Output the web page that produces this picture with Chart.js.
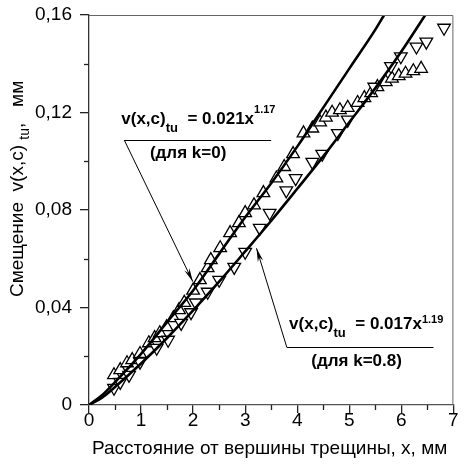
<!DOCTYPE html>
<html><head><meta charset="utf-8">
<script src="https://cdn.jsdelivr.net/npm/chart.js@4/dist/chart.umd.min.js"></script>
<style>html,body{margin:0;padding:0;background:#fff;overflow:hidden}#wrap{width:462px;height:465px;position:relative}</style>
</head><body><div id="wrap"><canvas id="c" width="462" height="465"></canvas></div>
<script>
// ---- data ----
const xTickLabels = ['0','1','2','3','4','5','6','7'];
const yTickLabels = ['0','0,04','0,08','0,12','0,16'];

// k = 0 (up triangles)
const k0X = [0.48,0.60,0.73,0.83,0.98,1.15,1.26,1.36,1.49,1.62,1.73,1.83,2.00,2.13,2.28,2.34,2.52,2.71,2.88,3.00,3.17,3.35,3.60,3.75,3.92,4.12,4.29,4.44,4.55,4.67,4.82,4.97,5.16,5.29,5.42,5.54,5.70,5.82,5.95,6.08,6.23,6.38];
const k0Y = [0.0123,0.0144,0.0172,0.0185,0.0210,0.0254,0.0275,0.0295,0.0320,0.0357,0.0390,0.0420,0.0470,0.0513,0.0562,0.0595,0.0644,0.0706,0.0747,0.0788,0.0820,0.0870,0.0930,0.0977,0.1030,0.1115,0.1135,0.1160,0.1180,0.1200,0.1210,0.1220,0.1240,0.1260,0.1280,0.1305,0.1325,0.1340,0.1350,0.1360,0.1370,0.1380];

// k = 0.8 (down triangles)
const k08X = [0.48,0.60,0.77,0.98,1.30,1.52,1.77,1.96,2.05,2.28,2.50,2.79,3.00,3.28,3.47,3.79,3.97,4.29,4.48,4.78,4.97,5.48,5.80,5.99,6.29,6.48,6.82];
const k08Y = [0.0070,0.0094,0.0123,0.0177,0.0234,0.0267,0.0336,0.0380,0.0420,0.0464,0.0513,0.0566,0.0628,0.0726,0.0788,0.0880,0.0930,0.0997,0.1030,0.1115,0.1170,0.1305,0.1390,0.1430,0.1470,0.1490,0.1547];

// fitted curves
const fit0X = [0,0.25,0.5,1,1.5,2,2.5,3,3.5,4,4.5,5,5.5,5.67];
const fit0Y = [0,0.004,0.0094,0.021,0.034,0.047,0.062,0.077,0.091,0.106,0.122,0.138,0.154,0.160];
const fit08X = [0,0.25,0.5,1,1.5,2,2.5,3,3.5,4,4.5,5,5.5,6,6.46];
const fit08Y = [0,0.003,0.0074,0.017,0.0275,0.0388,0.0506,0.063,0.0756,0.0887,0.102,0.116,0.130,0.145,0.160];

const pts = (xs, ys) => xs.map((x, i) => ({x: x, y: ys[i]}));
const FONT = "'Liberation Sans', Arial, sans-serif";

// annotation anchors (data coordinates)
const notes = [
  {text: [['v(x,c)',17,0],['tu',13,8],['  = 0.021x',17,0],['1.17',11,-11]], at: [0.62,0.1153],
   sub: '(для k=0)', subAt: [1.17,0.1013], line: [0.677,3.50,0.1087], arrowFrom: [0.677,0.1087], arrowTo: [1.995,0.0506]},
  {text: [['v(x,c)',17,0],['tu',13,8],['  = 0.017x',17,0],['1.19',11,-6]], at: [3.844,0.0310],
   sub: '(для k=0.8)', subAt: [4.27,0.0158], line: [3.80,6.618,0.02367], arrowFrom: [3.80,0.02367], arrowTo: [3.218,0.0643]}
];

function drawRich(ctx, x, y, parts, bold) {
  let cx = x;
  for (const [t, size, dy] of parts) {
    ctx.font = (bold ? 'bold ' : '') + size + 'px ' + FONT;
    ctx.fillText(t, cx, y + dy);
    cx += ctx.measureText(t).width;
  }
}

function arrow(ctx, x1, y1, x2, y2) {
  ctx.beginPath(); ctx.moveTo(x1, y1); ctx.lineTo(x2, y2); ctx.stroke();
  const a = Math.atan2(y2 - y1, x2 - x1), L = 14, w = 0.2;
  ctx.beginPath();
  ctx.moveTo(x2, y2);
  ctx.lineTo(x2 - L * Math.cos(a - w), y2 - L * Math.sin(a - w));
  ctx.lineTo(x2 - 9 * Math.cos(a), y2 - 9 * Math.sin(a));
  ctx.lineTo(x2 - L * Math.cos(a + w), y2 - L * Math.sin(a + w));
  ctx.closePath(); ctx.fill();
}

const decor = {
  id: 'decor',
  afterDraw(chart) {
    const {ctx, chartArea: ca, scales: {x, y}} = chart;
    ctx.save();
    // frame top/right
    ctx.strokeStyle = '#666'; ctx.lineWidth = 1;
    ctx.beginPath(); ctx.moveTo(ca.left, ca.top + 0.5); ctx.lineTo(ca.right - 0.5, ca.top + 0.5); ctx.lineTo(ca.right - 0.5, ca.bottom); ctx.stroke();
    // minor ticks
    ctx.strokeStyle = '#222'; ctx.lineWidth = 1.3;
    for (let v = 0.02; v < 0.16; v += 0.04) {
      const py = Math.round(y.getPixelForValue(v)) + 0.5;
      ctx.beginPath(); ctx.moveTo(ca.left - 5, py); ctx.lineTo(ca.left, py); ctx.stroke();
    }
    for (let v = 0.5; v < 7; v += 1) {
      const px = Math.round(x.getPixelForValue(v)) + 0.5;
      ctx.beginPath(); ctx.moveTo(px, ca.bottom); ctx.lineTo(px, ca.bottom + 5); ctx.stroke();
    }
    ctx.fillStyle = '#000';
    ctx.textBaseline = 'alphabetic'; ctx.textAlign = 'left';
    // x title
    ctx.font = '19px ' + FONT;
    ctx.fillText('Расстояние от вершины трещины, х, мм', 92, 454);
    // y title
    ctx.save();
    ctx.translate(23, 297); ctx.rotate(-Math.PI / 2);
    drawRich(ctx, 0, 0, [['Смещение  v(x,c) ',19,0],['tu',14,6],[',   мм',19,0]], false);
    ctx.restore();
    // annotations
    ctx.strokeStyle = '#000'; ctx.lineWidth = 1;
    for (const n of notes) {
      drawRich(ctx, x.getPixelForValue(n.at[0]), y.getPixelForValue(n.at[1]), n.text, true);
      ctx.font = 'bold 17px ' + FONT;
      ctx.fillText(n.sub, x.getPixelForValue(n.subAt[0]), y.getPixelForValue(n.subAt[1]));
      const ly = Math.round(y.getPixelForValue(n.line[2])) + 0.5;
      ctx.beginPath(); ctx.moveTo(x.getPixelForValue(n.line[0]), ly); ctx.lineTo(x.getPixelForValue(n.line[1]), ly); ctx.stroke();
      arrow(ctx, x.getPixelForValue(n.arrowFrom[0]), y.getPixelForValue(n.arrowFrom[1]),
                 x.getPixelForValue(n.arrowTo[0]), y.getPixelForValue(n.arrowTo[1]));
    }
    ctx.restore();
  }
};

new Chart(document.getElementById('c'), {
  type: 'scatter',
  data: {
    datasets: [
      {type: 'line', label: 'fit k=0', data: pts(fit0X, fit0Y), showLine: true, borderColor: '#000', borderWidth: 2.6, pointRadius: 0, cubicInterpolationMode: 'monotone', fill: false, order: 0},
      {type: 'line', label: 'fit k=0.8', data: pts(fit08X, fit08Y), showLine: true, borderColor: '#000', borderWidth: 2.6, pointRadius: 0, cubicInterpolationMode: 'monotone', fill: false, order: 1},
      {label: 'k=0', data: pts(k0X, k0Y), pointStyle: 'triangle', pointRadius: 7.3, pointBackgroundColor: '#fff', pointBorderColor: '#000', pointBorderWidth: 1.3, order: 3},
      {label: 'k=0.8', data: pts(k08X, k08Y), pointStyle: 'triangle', rotation: 180, pointRotation: 180, pointRadius: 7.3, pointBackgroundColor: '#fff', pointBorderColor: '#000', pointBorderWidth: 1.3, order: 2}
    ]
  },
  options: {
    responsive: false, animation: false, devicePixelRatio: 1,
    layout: {padding: {left: 0, right: 1, top: 15, bottom: 0}},
    plugins: {legend: {display: false}, tooltip: {enabled: false}},
    scales: {
      x: {
        type: 'linear', min: 0, max: 7,
        afterFit: s => { s.height = 60; s.paddingLeft = 0; s.paddingRight = 0; },
        ticks: {stepSize: 1, autoSkip: false, maxRotation: 0, padding: 0, color: '#000', font: {family: FONT, size: 19, lineHeight: 0.8},
                callback: v => xTickLabels[Math.round(v)]},
        grid: {drawOnChartArea: false, tickLength: 8, tickColor: '#222', lineWidth: 1.3},
        border: {color: '#555', width: 1.3}
      },
      y: {
        type: 'linear', min: 0, max: 0.16,
        afterFit: s => { s.width = 89; s.paddingTop = 0; s.paddingBottom = 0; },
        ticks: {stepSize: 0.04, autoSkip: false, padding: 8, color: '#000', font: {family: FONT, size: 19},
                callback: v => yTickLabels[Math.round(v / 0.04)]},
        grid: {drawOnChartArea: false, tickLength: 9, tickColor: '#222', lineWidth: 1.3},
        border: {color: '#333', width: 1.3}
      }
    }
  },
  plugins: [decor]
});
</script></body></html>
